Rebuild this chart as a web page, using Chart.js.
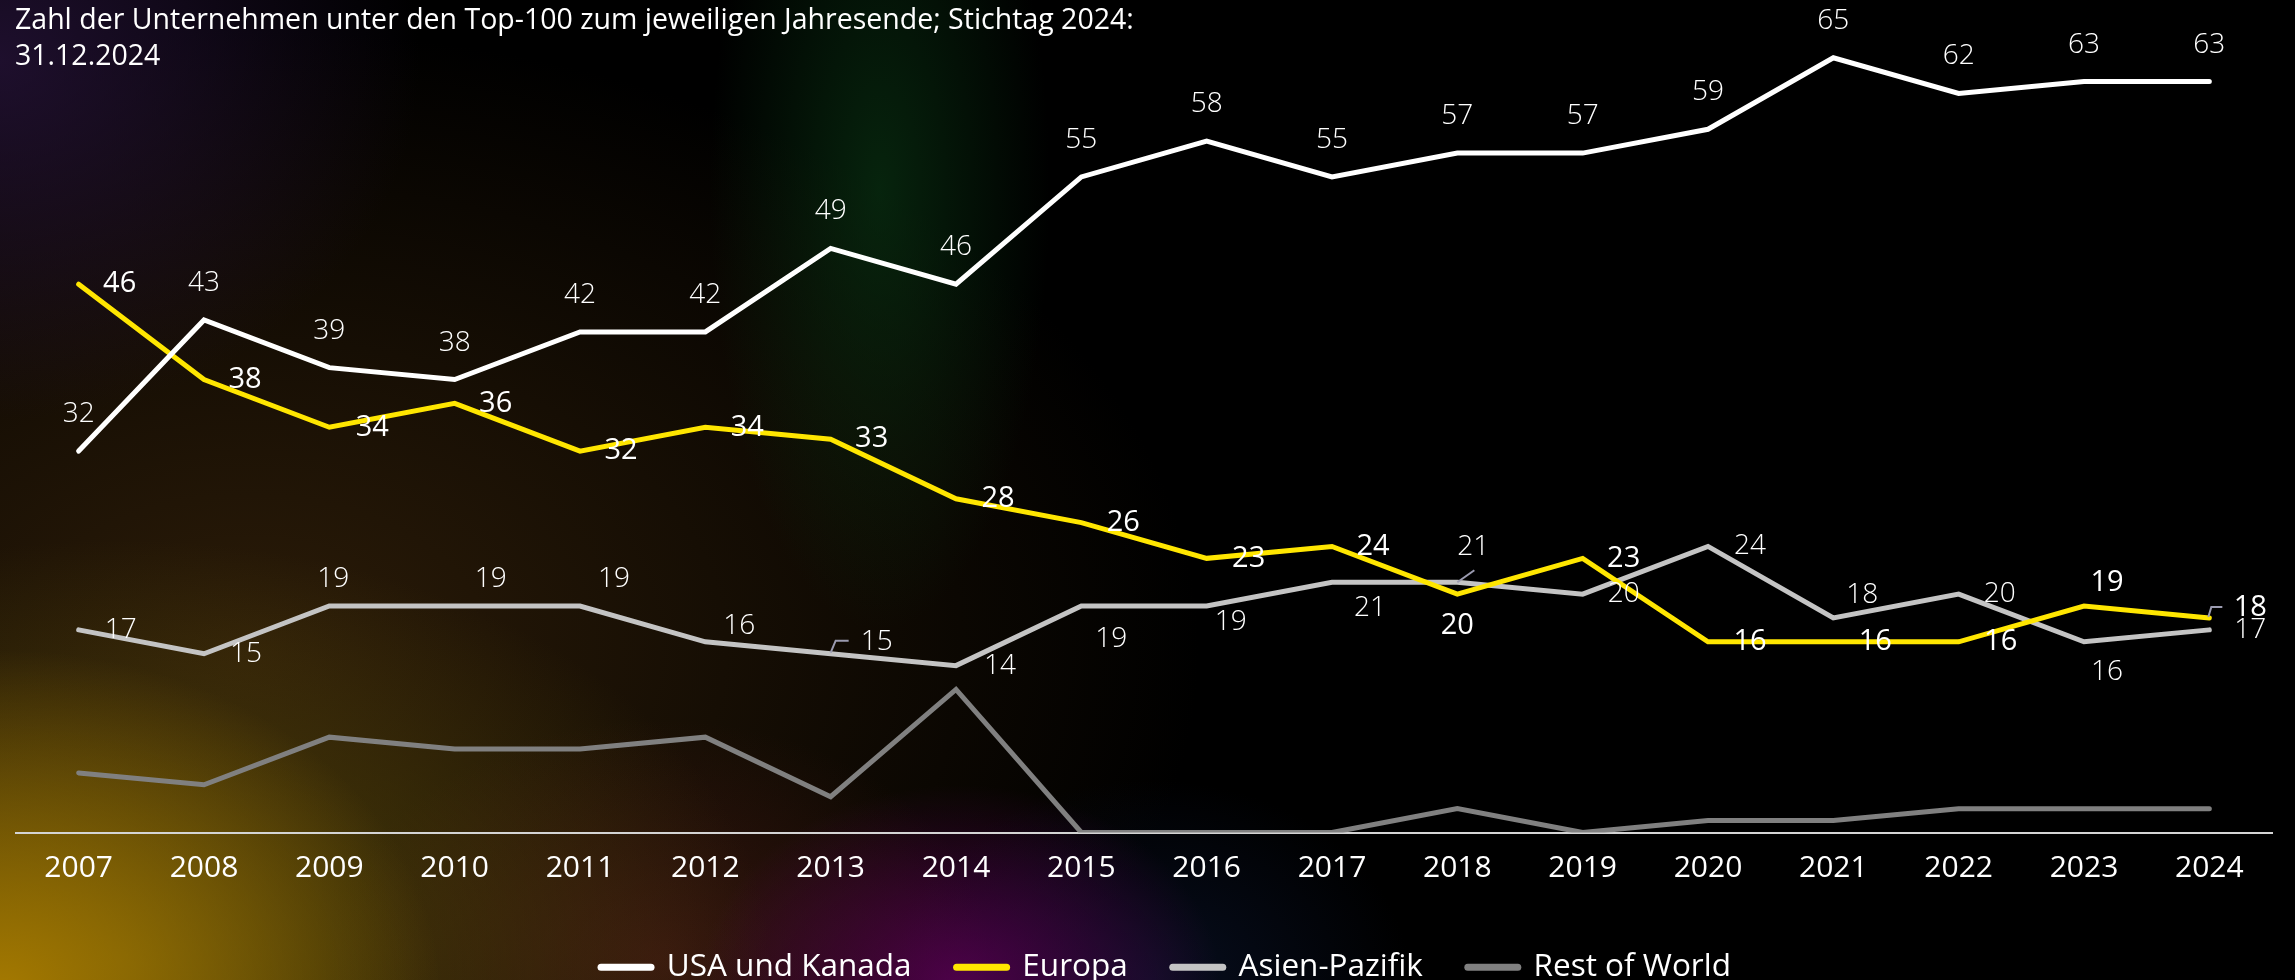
<!DOCTYPE html>
<html>
<head>
<meta charset="utf-8">
<script src="https://cdn.jsdelivr.net/npm/chart.js"></script>
<style>
html,body{margin:0;padding:0;width:2295px;height:980px;overflow:hidden;background:#000;}
#wrap{position:relative;width:2295px;height:980px;overflow:hidden;
background:
 radial-gradient(ellipse 440px 340px at 0px 990px, rgba(170,125,0,0.95), rgba(170,125,0,0) 100%),
 radial-gradient(ellipse 650px 420px at 120px 960px, rgba(100,85,10,0.75), rgba(100,85,10,0) 100%),
 radial-gradient(ellipse 260px 200px at 960px 985px, rgba(95,0,90,0.8), rgba(95,0,90,0) 100%),
 radial-gradient(ellipse 330px 240px at 660px 960px, rgba(70,25,20,0.7), rgba(70,25,20,0) 100%),
 radial-gradient(ellipse 260px 200px at 1150px 980px, rgba(10,20,45,0.7), rgba(10,20,45,0) 100%),
 radial-gradient(ellipse 170px 440px at 880px 190px, rgba(10,55,20,0.65), rgba(10,55,20,0) 100%),
 radial-gradient(ellipse 420px 360px at 0px 60px, rgba(40,20,60,0.75), rgba(40,20,60,0) 100%),
 radial-gradient(ellipse 950px 620px at 250px 650px, rgba(55,35,10,0.8), rgba(55,35,10,0) 100%),
 #000;}
#title{position:absolute;left:15px;top:0px;font-family:'Open Sans',sans-serif;font-size:28.5px;line-height:36px;color:#fff;font-weight:400;white-space:nowrap;}
canvas{position:absolute;left:0;top:0;}
</style>
</head>
<body>
<div id="wrap">
<canvas id="c" width="2295" height="980"></canvas>
<div id="title">Zahl der Unternehmen unter den Top-100 zum jeweiligen Jahresende; Stichtag 2024:<br>31.12.2024</div>
</div>
<script>
// ---- data ----
const years = ['2007','2008','2009','2010','2011','2012','2013','2014','2015','2016','2017','2018','2019','2020','2021','2022','2023','2024'];
const usaKanada    = [32,43,39,38,42,42,49,46,55,58,55,57,57,59,65,62,63,63];
const europa       = [46,38,34,36,32,34,33,28,26,23,24,20,23,16,16,16,19,18];
const asienPazifik = [17,15,19,19,19,16,15,14,19,19,21,21,20,24,18,20,16,17];
const restOfWorld  = [5,4,8,7,7,8,3,12,0,0,0,2,0,1,1,2,2,2];
const seriesNames  = ['USA und Kanada','Europa','Asien-Pazifik','Rest of World'];

// ---- label placement (offsets from each point, px) ----
const usaLabelPos = [[0,-37],[0,-37],[0,-37],[0,-37],[0,-37],[0,-37],[0,-37],[0,-37],[0,-37],[0,-37],[0,-37],[0,-37],[0,-37],[0,-37],[0,-37],[0,-37],[0,-37],[0,-37]];
const europaLabelPos = [[41,0],[41,0],[43,0],[41,0],[41,0],[42,0],[41,0],[42,0],[42,0],[42,0],[41,0],[0,32],[41,0],[42,0],[42,0],[42,0],[23,-23],[41,-10]];
const asienLabelPos = [[42,0],[42,0],[4,-27],[36,-27],[34,-27],[34,-16],[46,-12],[44,0],[30,33],[24,16],[38,26],[16,-35],[41,0],[42,0],[29,-23],[41,0],[23,30],[41,0]];
const leaderLines = {
  1: {17: [[-1,-1],[2,-11],[13,-11]]},
  2: {6: [[0,-1],[5,-13],[18,-13]], 11: [[0,0],[17,-12]]}
};

const FONT = "'Open Sans', sans-serif";

const labelPlugin = {
  id: 'valueLabels',
  afterDatasetsDraw(chart) {
    const ctx = chart.ctx;
    const cfg = [
      {pos: usaLabelPos, weight: 300, size: 28},
      {pos: europaLabelPos, weight: 500, size: 29},
      {pos: asienLabelPos, weight: 300, size: 28},
      null
    ];
    ctx.save();
    chart.data.datasets.forEach((ds, di) => {
      const c = cfg[di];
      if (!c) return;
      const meta = chart.getDatasetMeta(di);
      meta.data.forEach((pt, i) => {
        const off = c.pos[i];
        const ll = leaderLines[di] && leaderLines[di][i];
        if (ll) {
          ctx.beginPath();
          ctx.strokeStyle = '#9b9bb0';
          ctx.lineWidth = 2;
          ll.forEach((p, k) => { if (k === 0) ctx.moveTo(pt.x + p[0], pt.y + p[1]); else ctx.lineTo(pt.x + p[0], pt.y + p[1]); });
          ctx.stroke();
        }
        ctx.font = c.weight + ' ' + c.size + 'px ' + FONT;
        ctx.fillStyle = '#ffffff';
        ctx.textAlign = 'center';
        ctx.textBaseline = 'middle';
        ctx.fillText(String(ds.data[i]), pt.x + off[0], pt.y + off[1]);
      });
    });
    ctx.restore();
  }
};

const legendShift = {
  id: 'legendShift',
  afterLayout(chart) {
    const lg = chart.legend;
    if (!lg) return;
    lg.left += 22; lg.right += 22;
    lg.top += 2; lg.bottom += 2;
  }
};

const colors = ['#ffffff', '#ffe600', '#c4c4c4', '#808080'];
const seriesData = [usaKanada, europa, asienPazifik, restOfWorld];

new Chart(document.getElementById('c'), {
  type: 'line',
  data: {
    labels: years,
    datasets: seriesNames.map((name, i) => ({
      label: name,
      data: seriesData[i],
      borderColor: colors[i],
      backgroundColor: colors[i],
      borderWidth: 5,
      pointRadius: 0,
      tension: 0,
      borderCapStyle: 'round',
      borderJoinStyle: 'miter',
      fill: false
    }))
  },
  options: {
    responsive: false,
    animation: false,
    devicePixelRatio: 1,
    layout: {padding: {top: 22, left: 16, right: 23, bottom: -11}},
    scales: {
      x: {
        type: 'category',
        offset: true,
        grid: {display: false, drawTicks: false},
        border: {display: true, color: '#d4d4d4', width: 2},
        ticks: {color: '#ffffff', font: {family: FONT, size: 30, weight: 400}, padding: 18, maxRotation: 0, autoSkip: false}
      },
      y: {
        display: false,
        min: 0,
        max: 68
      }
    },
    plugins: {
      tooltip: {enabled: false},
      title: {display: false},
      legend: {
        position: 'bottom',
        align: 'center',
        labels: {
          usePointStyle: true,
          pointStyleWidth: 50,
          boxHeight: 7,
          padding: 45,
          color: '#ffffff',
          font: {family: FONT, size: 31.5, weight: 400},
          generateLabels(chart) {
            return chart.data.datasets.map((ds, i) => ({
              text: ds.label,
              fillStyle: ds.borderColor,
              strokeStyle: ds.borderColor,
              lineWidth: 7,
              lineCap: 'round',
              pointStyle: 'line',
              hidden: false,
              datasetIndex: i,
              fontColor: '#ffffff'
            }));
          }
        }
      }
    }
  },
  plugins: [labelPlugin, legendShift]
});
</script>
</body>
</html>
